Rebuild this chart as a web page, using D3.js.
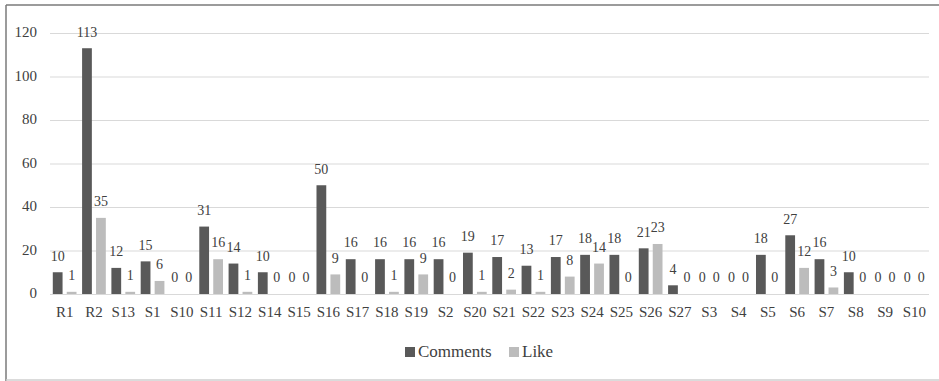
<!DOCTYPE html>
<html>
<head>
<meta charset="utf-8">
<script src="https://cdn.jsdelivr.net/npm/d3@7/dist/d3.min.js"></script>
<style>
  body { margin: 0; background: #fff; font-family: 'Liberation Serif'; }
  #wrap { position: relative; width: 939px; height: 381px; overflow: hidden; }
  #wrap svg { position: absolute; left: 0; top: 0; }
  .lbl { position: absolute; white-space: nowrap; color: #404040; font-family: 'Liberation Serif'; }
</style>
</head>
<body>
<div id="wrap"><svg id="chart" width="939" height="381"></svg></div>
<script>
// Per-page engagement counts
const categories = ["R1","R2","S13","S1","S10","S11","S12","S14","S15","S16","S17","S18","S19","S2","S20","S21","S22","S23","S24","S25","S26","S27","S3","S4","S5","S6","S7","S8","S9","S10"];
const comments = [10,113,12,15,0,31,14,10,0,50,16,16,16,16,19,17,13,17,18,18,21,4,0,0,18,27,16,10,0,0];
const likes    = [1,35,1,6,0,16,1,0,0,9,0,1,9,0,1,2,1,8,14,0,23,0,0,0,0,12,3,0,0,0];
const seriesNames = ["Comments", "Like"];
const yTicks = [0,20,40,60,80,100,120];

const colors = { Comments: "#595959", Like: "#bcbcbc" };

const wrap = d3.select("#wrap");
const svg = d3.select("#chart");
const W = 939;
const margin = { left: 50, top: 33 };
const plotRight = 929, plotBottom = 294;

// text label placed by its baseline; anchor = start | middle | end
const SHIFT = { start: "0", middle: "-50%", end: "-100%" };
const label = (tx, baseline, str, size, anchor) => wrap.append("div")
  .attr("class", "lbl")
  .style("left", tx + "px")
  .style("top", (baseline - 0.8375 * size) + "px")
  .style("font-size", size + "px")
  .style("line-height", size + "px")
  .style("transform", `translateX(${SHIFT[anchor]})`)
  .text(str);

// frame of the chart area
svg.append("line").attr("x1", 6).attr("x2", 6).attr("y1", 5).attr("y2", 381).attr("stroke", "#7a7a7a").attr("stroke-width", 1.5);
svg.append("line").attr("x1", 6).attr("x2", W).attr("y1", 5).attr("y2", 5).attr("stroke", "#7a7a7a").attr("stroke-width", 1.5);
svg.append("line").attr("x1", 6).attr("x2", W).attr("y1", 380).attr("y2", 380).attr("stroke", "#cfcfcf").attr("stroke-width", 1.5);

const x = d3.scaleBand()
  .domain(categories.map((d, i) => i))
  .range([margin.left, plotRight]);

const xSub = d3.scaleBand()
  .domain(seriesNames)
  .range([0, x.bandwidth()])
  .paddingInner(0.3)
  .paddingOuter(0.2);

const y = d3.scaleLinear().domain([0, 120]).range([plotBottom, margin.top]);

// gridlines
const yAxis = d3.axisLeft(y).tickValues(yTicks).tickSize(-(plotRight - margin.left)).tickFormat("");
const gy = svg.append("g").attr("transform", `translate(${margin.left},0)`).call(yAxis);
gy.select(".domain").remove();
gy.selectAll(".tick line").attr("stroke", "#d9d9d9").attr("stroke-width", 1);
gy.selectAll(".tick text").remove();

// y tick labels
yTicks.forEach(t => label(37, y(t) + 5, String(t), 15, "end"));

// x category labels
categories.forEach((c, i) => label(x(i) + x.bandwidth() / 2, plotBottom + 24, c, 15, "middle"));

// bars
const rows = categories.map((c, i) => ({ i, Comments: comments[i], Like: likes[i] }));
const marks = rows.flatMap(r => seriesNames.map(k => ({ i: r.i, k, v: r[k] })));

svg.append("g").selectAll("rect").data(marks).join("rect")
  .attr("x", d => x(d.i) + xSub(d.k))
  .attr("width", xSub.bandwidth())
  .attr("y", d => y(d.v))
  .attr("height", d => y(0) - y(d.v))
  .attr("fill", d => colors[d.k]);

// value labels
marks.forEach(d => label(x(d.i) + xSub(d.k) + xSub.bandwidth() / 2, y(d.v) - 11, String(d.v), 14, "middle"));

// legend
const items = [{ k: "Comments", x: 405 }, { k: "Like", x: 509 }];
items.forEach(it => {
  svg.append("rect").attr("x", it.x).attr("y", 347).attr("width", 10).attr("height", 10).attr("fill", colors[it.k]);
  label(it.x + 13, 357.5, it.k, 17, "start");
});
</script>
</body>
</html>
